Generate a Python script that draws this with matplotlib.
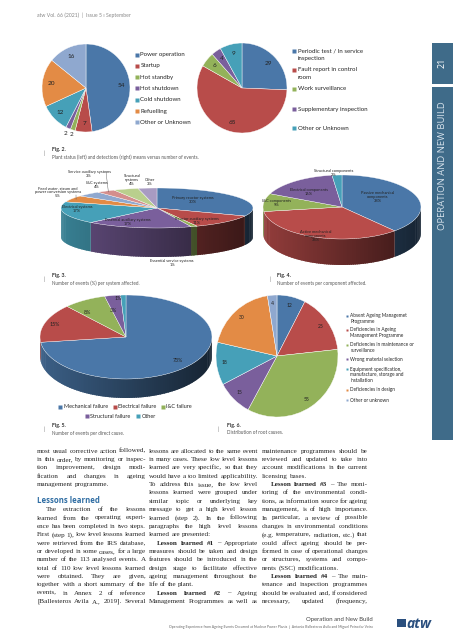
import numpy as np
import matplotlib
matplotlib.use('Agg')
import matplotlib.pyplot as plt
import matplotlib.colors as mcolors
from matplotlib.patches import Polygon, Rectangle
from matplotlib.font_manager import FontProperties

# ---- data ----
status_labels = ['Power operation', 'Startup', 'Hot standby', 'Hot shutdown',
                 'Cold shutdown', 'Refuelling', 'Other or Unknown']
status_events = [54, 7, 2, 2, 12, 20, 16]

detect_labels = ['Periodic test / In service\ninspection', 'Fault report in control\nroom',
                 'Work surveillance', 'Supplementary inspection', 'Other or Unknown']
detect_events = [29, 65, 6, 4, 9]

system_labels = ['Primary reactor systems', 'Reactor auxiliary systems', 'Essential service systems',
                 'Essential auxiliary systems', 'Electrical systems',
                 'Feed water, steam and\npower conversion systems', 'I&C systems',
                 'Service auxiliary systems', 'Structural\nsystems', 'Other']
system_pct = [30, 11, 1, 17, 17, 5, 4, 3, 4, 3]

comp_labels = ['Passive mechanical\ncomponents', 'Active mechanical\ncomponents',
               'I&C components', 'Electrical components', 'Structural components']
comp_pct = [38, 34, 9, 16, 2]

cause_labels = ['Mechanical failure', 'Electrical failure', 'I&C failure', 'Structural failure', 'Other']
cause_pct = [73, 15, 8, 3, 1]

root_labels = ['Absent Ageing Managemet\nProgramme', 'Deficiencies in Ageing\nManagement Programme',
               'Deficiencies in maintenance or\nsurveillance', 'Wrong material selection',
               'Equipment specification,\nmanufacture, storage and\ninstallation',
               'Deficiencies in design', 'Other or unknown']
root_events = [12, 25, 55, 15, 18, 30, 4]

# excel-ish palette
BLUE, RED, GREEN, PURPLE, TEAL, ORANGE, LBLUE = ('#4A77A8', '#B84C4A', '#93B25A', '#7A5F9C',
                                                 '#46A0B8', '#E38B45', '#8FA8CF')
pal7 = [BLUE, RED, GREEN, PURPLE, TEAL, ORANGE, LBLUE]
pal_sys = [BLUE, RED, GREEN, PURPLE, TEAL, ORANGE, LBLUE, '#D48E8C', '#B9CF8D', '#A89BC2']

W, H = 453, 640
fig = plt.figure(figsize=(W / 100, H / 100), dpi=100)
page = fig.add_axes([0, 0, 1, 1])
page.axis('off')

SANS = 'Lato'
TXT = '#262626'


def ang_pt(cx, cy, rx, ry, phi):
    # phi in degrees, clockwise from top, page coords (y down)
    t = np.radians(phi)
    return cx + rx * np.sin(t), cy - ry * np.cos(t)


def pie2d(values, colors, cx, cy, r, fs, inner=0.8, outer=1.13, small=3):
    page.pie(values, colors=colors, center=(cx, cy), radius=r, startangle=-90, counterclock=True,
             wedgeprops=dict(edgecolor='white', linewidth=0.3))
    v = np.asarray(values, float)
    b = np.concatenate([[0], np.cumsum(v)]) / v.sum() * 360
    for i, val in enumerate(values):
        mid = (b[i] + b[i + 1]) / 2
        f = outer if val < small else inner
        x, y = ang_pt(cx, cy, r * f, r * f, mid)
        page.text(x, y, str(val), ha='center', va='center', fontsize=fs, color='#222222', family=SANS)


def pie3d(values, colors, cx, cy, a, b, depth):
    v = np.asarray(values, float)
    bounds = np.concatenate([[0], np.cumsum(v)]) / v.sum() * 360
    for i in range(len(v)):
        lo, hi = max(bounds[i], 90), min(bounds[i + 1], 270)
        if hi <= lo:
            continue
        steps = list(np.arange(lo, hi, 1.5)) + [hi]
        base = np.array(mcolors.to_rgb(colors[i]))
        for p, q in zip(steps[:-1], steps[1:]):
            q2 = min(q + 1.0, hi)
            x0, y0 = ang_pt(cx, cy, a, b, p)
            x1, y1 = ang_pt(cx, cy, a, b, q2)
            shade = 0.3 + 0.5 * (1 - np.sin(np.radians((p + q) / 2))) / 2
            col = base * shade
            page.add_patch(Polygon([(x0, y0), (x1, y1), (x1, y1 + depth), (x0, y0 + depth)],
                                   closed=True, fc=col, ec='none'))
    for i in range(len(v)):
        ts = np.linspace(bounds[i], bounds[i + 1], 80)
        pts = [(cx, cy)] + [ang_pt(cx, cy, a, b, t) for t in ts]
        page.add_patch(Polygon(pts, closed=True, fc=colors[i], ec='white', lw=0.25))
    return bounds


def legend_item(x, y, label, color, fs, ms=2.2, dy=6.2):
    page.plot([x], [y], marker='s', ms=ms, color=color, mec='none')
    for k, ln in enumerate(label.split('\n')):
        page.text(x + 3.5, y + k * dy, ln, fontsize=fs, va='center', ha='left', color=TXT, family=SANS)


def caption(xbar, x, y, title, sub):
    page.text(xbar, y + 3, '|', fontsize=4, color='#777777', va='center', family=SANS)
    page.text(x, y, title, fontsize=3.8, weight='bold', color='#333333', va='center', family=SANS)
    page.text(x, y + 7, sub, fontsize=3.3, color='#555555', va='center', family=SANS)


# ---- header & sidebar ----
page.text(37, 15, 'atw Vol. 66 (2021)  |  Issue 5 ı September', fontsize=3.7, color='#888888',
          va='center', family=SANS)
page.add_patch(Rectangle((432, 43), 21, 41, fc='#3F6B89', ec='none'))
page.add_patch(Rectangle((432, 87), 21, 353, fc='#3F6B89', ec='none'))
page.text(442.5, 63, '21', rotation=90, fontsize=6.5, color='white', ha='center', va='center', family='Open Sans')
page.text(442.5, 166, 'OPERATION AND NEW BUILD', rotation=90, fontsize=6.8, color='#D5E1EB',
          ha='center', va='center', family='Open Sans')

# ---- Fig. 2 ----
pie2d(status_events, pal7, 86, 88, 44, 4.6, inner=0.8, outer=1.12)
for k, (lab, c) in enumerate(zip(status_labels, pal7)):
    legend_item(137, 54.5 + k * 11.3, lab, c, 4.4)
pie2d(detect_events, pal7[:5], 242, 88, 45, 4.6, inner=0.8)
for lab, c, y in zip(detect_labels, pal7[:5], [51, 70, 89, 109, 128]):
    legend_item(294, y, lab, c, 4.4, dy=7.5)
caption(43, 52, 150, 'Fig. 2.', 'Plant status (left) and detections (right) means versus number of events.')

# ---- Fig. 3 ----
sys_xy = [(193, 200), (197, 221), (172, 263), (128, 222), (77, 209), (58, 192), (97, 185),
          (89, 174), (132, 180), (150, 182)]
b3 = pie3d(system_pct, pal_sys, 157, 208, 96, 20, 29)
for i, (lab, p) in enumerate(zip(system_labels, system_pct)):
    x, y = sys_xy[i]
    page.text(x, y, '%s\n%d%%' % (lab, p), fontsize=2.9, ha='center', va='center', color='#222222',
              family=SANS, linespacing=1.0)
# leader lines for the thin slices
for i, (lx, ly) in [(5, (76, 195)), (7, (106, 172))]:
    ex, ey = ang_pt(157, 208, 96 * 0.95, 20 * 0.95, (b3[i] + b3[i + 1]) / 2)
    page.plot([lx, ex], [ly, ey], color='#555555', lw=0.3)
caption(43, 52, 276, 'Fig. 3.', 'Number of events (%) per system affected.')

# ---- Fig. 4 ----
comp_xy = [(378, 197), (316, 236), (277, 203), (309, 192), (334, 173)]
pie3d(comp_pct, pal7[:5], 342, 207, 79, 32, 26)
for i, (lab, p) in enumerate(zip(comp_labels, comp_pct)):
    x, y = comp_xy[i]
    page.text(x, y, '%s\n%d%%' % (lab, p), fontsize=2.9, ha='center', va='center', color='#222222',
              family=SANS, linespacing=1.0)
caption(269, 277, 276, 'Fig. 4.', 'Number of events per component affected.')

# ---- Fig. 5 ----
cause_xy = [(178, 360), (55, 325), (87, 313), (113, 311), (118, 299)]
pie3d(cause_pct, pal7[:5], 126, 337, 86, 42, 19)
for i, p in enumerate(cause_pct):
    x, y = cause_xy[i]
    page.text(x, y, '%d%%' % p, fontsize=3.8, ha='center', va='center', color='#222222', family=SANS)
for lab, c, (x, y) in zip(cause_labels, pal7[:5],
                          [(60, 407), (115, 407), (163, 407), (87, 416), (138, 416)]):
    legend_item(x, y, lab, c, 4.0)
caption(43, 52, 426, 'Fig. 5.', 'Number of events per direct cause.')

# ---- Fig. 6 ----
pie2d(root_events, pal7, 277, 356, 61, 3.6, inner=0.86)
for lab, c, y in zip(root_labels, pal7, [315.5, 330, 345, 359, 369, 390, 400]):
    legend_item(347, y, lab, c, 3.4, ms=1.8, dy=5.6)
caption(218, 227, 426, 'Fig. 6.', 'Distribution of root causes.')

# ---- body text ----
col1 = [
    "most usual corrective action followed,",
    "in this order, by monitoring or inspec-",
    "tion improvement, design modi-",
    "fication and changes in ageing",
    "management programme.\n",
    "",
    "#Lessons learned",
    "\tThe extraction of the lessons",
    "learned from the operating experi-",
    "ence has been completed in two steps.",
    "First (step 1), low level lessons learned",
    "were retrieved from the IRS database,",
    "or developed in some cases, for a large",
    "number of the 113 analysed events. A",
    "total of 110 low level lessons learned",
    "were obtained. They are given,",
    "together with a short summary of the",
    "events, in Annex 2 of reference",
    "[Ballesteros Avila A., 2019]. Several",
]
col2 = [
    "lessons are allocated to the same event",
    "in many cases. These low level lessons",
    "learned are very specific, so that they",
    "would have a too limited applicability.",
    "To address this issue, the low level",
    "lessons learned were grouped under",
    "similar topic or underlying key",
    "message to get a high level lesson",
    "learned (step 2). In the following",
    "paragraphs the high level lessons",
    "learned are presented:\n",
    "\tLesson learned #1 – Appropriate",
    "measures should be taken and design",
    "features should be introduced in the",
    "design stage to facilitate effective",
    "ageing management throughout the",
    "life of the plant.\n",
    "\tLesson learned #2 – Ageing",
    "Management Programmes as well as",
]
col3 = [
    "maintenance programmes should be",
    "reviewed and updated to take into",
    "account modifications in the current",
    "licensing bases.\n",
    "\tLesson learned #3 – The moni-",
    "toring of the environmental condi-",
    "tions, as information source for ageing",
    "management, is of high importance.",
    "In particular, a review of possible",
    "changes in environmental conditions",
    "(e.g. temperature, radiation, etc.) that",
    "could affect ageing should be per-",
    "formed in case of operational changes",
    "or structures, systems and compo-",
    "nents (SSC) modifications.\n",
    "\tLesson learned #4 – The main-",
    "tenance and inspection programmes",
    "should be evaluated and, if considered",
    "necessary, updated (frequency,",
]
columns = [(col1, 37, 146), (col2, 148.5, 258), (col3, 262, 368)]

renderer = fig.canvas.get_renderer()


def tw(s, prop):
    return renderer.get_text_width_height_descent(s, prop, ismath=False)[0]


def split_line(raw, fs):
    body = FontProperties(family='Liberation Serif', size=fs)
    bold = FontProperties(family='Liberation Serif', size=fs, weight='bold')
    words = raw.strip().split()
    nb = 3 if raw.strip().startswith('Lesson learned #') else 0
    props = [bold if j < nb else body for j in range(len(words))]
    return words, props, [tw(w, p) for w, p in zip(words, props)]


# largest body size where every justified line still keeps a small word gap
fs = 7.0
while fs > 4:
    ok = True
    for lines, x0, x1 in columns:
        for raw in lines:
            if not raw or raw.startswith('#'):
                continue
            words, props, widths = split_line(raw, fs)
            ind = 8.5 if raw.startswith('\t') else 0
            if len(words) > 1 and (x1 - x0 - ind - sum(widths)) / (len(words) - 1) < 0.9:
                ok = False
    if ok:
        break
    fs -= 0.1


def put_col(lines, x0, x1, y0=452.7, lh=8.35):
    natural = tw('a b', FontProperties(family='Liberation Serif', size=fs)) - \
        tw('ab', FontProperties(family='Liberation Serif', size=fs))
    for k, raw in enumerate(lines):
        y = y0 + k * lh
        if not raw:
            continue
        if raw.startswith('#'):
            page.text(x0, y, raw[1:], fontsize=5.6, weight='bold', color='#2F6DA3',
                      family='Open Sans', va='baseline')
            continue
        indent = 8.5 if raw.startswith('\t') else 0
        last = raw.endswith('\n')
        words, props, widths = split_line(raw, fs)
        x = x0 + indent
        gap = natural
        if not last and len(words) > 1:
            gap = (x1 - x - sum(widths)) / (len(words) - 1)
        for w, p, wd in zip(words, props, widths):
            page.text(x, y, w, fontproperties=p, va='baseline', ha='left', color=TXT)
            x += wd + gap


for lines, x0, x1 in columns:
    put_col(lines, x0, x1)

# ---- footer ----
page.text(373, 620, 'Operation and New Build', fontsize=4.3, ha='right', va='center', color='#444444',
          family=SANS)
page.text(373, 627, 'Operating Experience from Ageing Events Occurred at Nuclear Power Plants  |  '
          'Antonio Ballesteros Avila and Miguel Peinador Veira', fontsize=2.5, ha='right', va='center',
          color='#666666', family=SANS)
page.add_patch(Rectangle((397, 619), 9, 8, fc='#2A4F7E', ec='none'))
page.text(406.5, 623.5, 'atw', fontsize=10, weight='bold', style='italic', color='#2A4F7E',
          ha='left', va='center', family='Open Sans')

page.set_xlim(0, W)
page.set_ylim(H, 0)
page.set_aspect('auto')
fig.savefig('out.png', dpi=100)
